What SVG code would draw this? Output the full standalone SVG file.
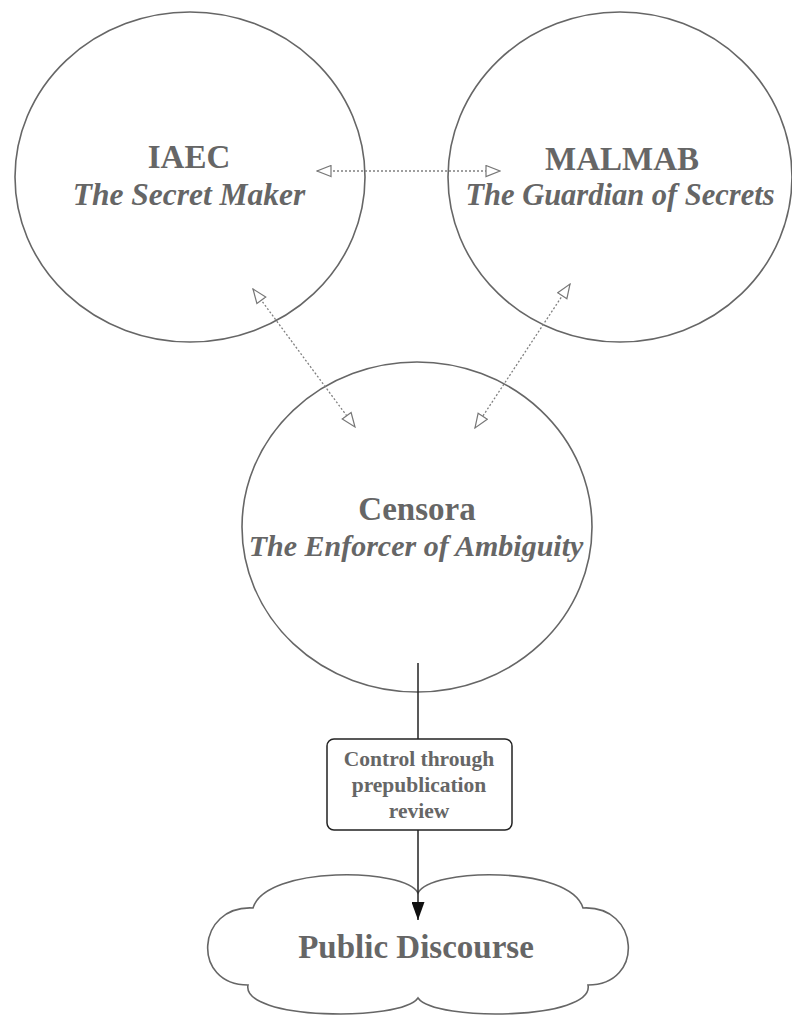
<svg xmlns="http://www.w3.org/2000/svg" width="792" height="1019" viewBox="0 0 792 1019">
  <style>
    .node { fill: #ffffff; stroke: #666666; stroke-width: 1.6; }
    .title { font-family: "Liberation Serif", serif; font-weight: bold; fill: #666666; text-anchor: middle; }
    .sub { font-family: "Liberation Serif", serif; font-weight: bold; font-style: italic; fill: #666666; text-anchor: middle; }
    .dotted { fill: none; stroke: #808080; stroke-width: 1.3; stroke-dasharray: 2 2; }
    .solid { fill: none; stroke: #222222; stroke-width: 1.5; }
    .lbl { font-family: "Liberation Serif", serif; font-weight: bold; fill: #666666; text-anchor: middle; font-size: 21.5px; }
  </style>
  <defs>
    <marker id="hollow" viewBox="0 0 16 13" refX="15" refY="6.5" markerWidth="16" markerHeight="13" markerUnits="userSpaceOnUse" orient="auto-start-reverse">
      <path d="M1,1 L15,6.5 L1,12 Z" fill="#ffffff" stroke="#777777" stroke-width="1.2"/>
    </marker>
    <marker id="filled" viewBox="0 0 18 13" refX="18" refY="6.5" markerWidth="18" markerHeight="13" markerUnits="userSpaceOnUse" orient="auto">
      <path d="M0,0 L18,6.5 L0,13 Z" fill="#111111"/>
    </marker>
  </defs>

  <g id="node-iaec">
    <ellipse class="node" cx="190" cy="177" rx="175" ry="165"/>
    <text class="title" x="189" y="168" font-size="33">IAEC</text>
    <text class="sub" x="189" y="205" font-size="31.5">The Secret Maker</text>
  </g>

  <g id="node-malmab">
    <ellipse class="node" cx="620" cy="177" rx="172" ry="165"/>
    <text class="title" x="622" y="170" font-size="33">MALMAB</text>
    <text class="sub" x="620" y="205" font-size="30.5">The Guardian of Secrets</text>
  </g>

  <g id="node-censora">
    <ellipse class="node" cx="417" cy="527" rx="175" ry="165"/>
    <text class="title" x="417" y="520" font-size="33">Censora</text>
    <text class="sub" x="416" y="556" font-size="30">The Enforcer of Ambiguity</text>
  </g>

  <g id="node-public">
    <path class="node" d="M 418 893 C 430 868, 570 865, 583 908 C 640 905, 645 985, 588 985 C 595 1020, 435 1022, 418 998 C 401 1022, 241 1020, 248 985 C 191 985, 196 905, 253 908 C 266 865, 406 868, 418 893 Z"/>
    <text class="title" x="416" y="958" font-size="33">Public Discourse</text>
  </g>

  <g id="connectors">
    <line class="dotted" x1="317" y1="171" x2="500" y2="171" marker-start="url(#hollow)" marker-end="url(#hollow)"/>
    <line class="dotted" x1="253" y1="289" x2="355" y2="427" marker-start="url(#hollow)" marker-end="url(#hollow)"/>
    <line class="dotted" x1="570" y1="284" x2="475" y2="428" marker-start="url(#hollow)" marker-end="url(#hollow)"/>
    <line class="solid" x1="418" y1="663" x2="418" y2="739"/>
    <line class="solid" x1="418" y1="830" x2="418" y2="920" marker-end="url(#filled)"/>
  </g>

  <g id="label-control">
    <rect x="327" y="739" width="185" height="91" rx="7" ry="7" fill="#ffffff" stroke="#222222" stroke-width="1.5"/>
    <text class="lbl" x="419" y="766">Control through</text>
    <text class="lbl" x="419" y="792">prepublication</text>
    <text class="lbl" x="419" y="818">review</text>
  </g>
</svg>
